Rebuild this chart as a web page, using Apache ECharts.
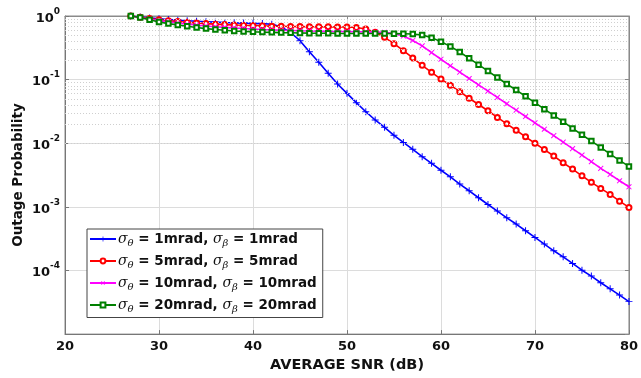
<!DOCTYPE html>
<html>
<head>
<meta charset="utf-8">
<script src="https://cdn.jsdelivr.net/npm/echarts@6/dist/echarts.min.js"></script>
<style>html,body{margin:0;padding:0;background:#fff}#c{width:641px;height:378px}</style>
</head>
<body>
<div id="c"></div>
<script>
const snr = [27,28,29,30,31,32,33,34,35,36,37,38,39,40,41,42,43,44,45,46,47,48,49,50,51,52,53,54,55,56,57,58,59,60,61,62,63,64,65,66,67,68,69,70,71,72,73,74,75,76,77,78,79,80];
const p1mrad = [1.0,0.966,0.933,0.902,0.881,0.861,0.841,0.826,0.813,0.8,0.789,0.78,0.773,0.766,0.759,0.741,0.676,0.55,0.409,0.275,0.187,0.126,0.0853,0.0608,0.0434,0.0313,0.0232,0.0178,0.0133,0.0103,0.00802,0.00614,0.00483,0.00376,0.00297,0.00228,0.00179,0.00139,0.00109,0.000859,0.000673,0.000537,0.000421,0.000331,0.00026,0.000204,0.000164,0.000129,0.000101,0.0000817,0.0000641,0.0000515,0.000041,0.0000324];
const p5mrad = [1.0,0.955,0.912,0.875,0.843,0.817,0.794,0.776,0.759,0.745,0.733,0.723,0.715,0.708,0.7,0.693,0.689,0.684,0.681,0.678,0.676,0.675,0.673,0.67,0.658,0.624,0.556,0.462,0.367,0.285,0.219,0.168,0.13,0.102,0.0817,0.0646,0.051,0.0406,0.0324,0.0255,0.0202,0.016,0.0126,0.01,0.00794,0.0063,0.00493,0.00393,0.00308,0.00243,0.00195,0.00157,0.00123,0.00098];
const p10mrad = [1.0,0.944,0.891,0.847,0.809,0.776,0.746,0.721,0.698,0.679,0.662,0.647,0.635,0.624,0.614,0.605,0.598,0.592,0.586,0.581,0.577,0.573,0.57,0.568,0.565,0.562,0.558,0.552,0.531,0.484,0.412,0.339,0.266,0.209,0.165,0.131,0.104,0.0828,0.0661,0.0525,0.0417,0.0331,0.0263,0.0209,0.0166,0.0132,0.0104,0.00822,0.00652,0.00513,0.00403,0.00324,0.00257,0.00207];
const p20mrad = [1.0,0.95,0.875,0.805,0.759,0.724,0.689,0.661,0.634,0.612,0.596,0.582,0.573,0.565,0.558,0.553,0.548,0.545,0.541,0.538,0.536,0.535,0.533,0.532,0.531,0.531,0.53,0.53,0.528,0.526,0.52,0.501,0.457,0.394,0.333,0.272,0.216,0.172,0.136,0.108,0.0853,0.0685,0.0547,0.0434,0.0343,0.0274,0.0218,0.0171,0.0136,0.0108,0.00861,0.00676,0.00537,0.00432];
const legendLabels = ['1mrad','5mrad','10mrad','20mrad'];
const xTicks = [20,30,40,50,60,70,80];

const FONT = 'DejaVu Sans';
const PLUS = 'path://M4.3,0H5.7V4.3H10V5.7H5.7V10H4.3V5.7H0V4.3H4.3Z';

function pairs(vals){ return snr.map((x,i)=>[x, vals[i]]); }

// minor grid values 2..9 x 10^e
const minorVals = [];
for (let e=-5; e<0; e++) for (let k=2; k<=9; k++) minorVals.push(k*Math.pow(10,e));

const colors = ['#0000ff','#ff0000','#ff00ff','#008000'];
const symbols = [PLUS,'emptyCircle',PLUS,'emptyRect'];
const rots = [0,0,45,0];
const sizes = [7,5,7,4.5];
const allVals = [p1mrad,p5mrad,p10mrad,p20mrad];

const names = legendLabels.map(l => l);
const series = [{
  type:'line', data:[], silent:true, z:1,
  markLine:{silent:true, symbol:'none', label:{show:false}, animation:false,
    lineStyle:{color:'#cfcfcf', type:[1,2], width:1},
    data: minorVals.map(v=>({yAxis:v}))}
}];
allVals.forEach((vals,i)=>{
  const isPlus = symbols[i]===PLUS;
  series.push({
    name: names[i], type:'line', data: pairs(vals),
    symbol: symbols[i], symbolSize: sizes[i], symbolRotate: rots[i],
    showAllSymbol:true, z: 3+i,
    lineStyle:{color:colors[i], width:1.6},
    itemStyle: isPlus ? {color:colors[i], borderWidth:0} : {color:colors[i], borderWidth:0.9}
  });
});

const chart = echarts.init(document.getElementById('c'), null, {renderer:'canvas'});
chart.setOption({
  animation:false,
  backgroundColor:'#fff',
  grid:{left:65, right:9, top:16, bottom:43, show:true, borderColor:'#8a8a8a', borderWidth:1, backgroundColor:'transparent'},
  xAxis:[{
    type:'value', min:20, max:80, interval:10,
    name:'AVERAGE SNR (dB)', nameLocation:'middle', nameGap:21,
    nameTextStyle:{fontFamily:FONT, fontWeight:'bold', fontSize:14.5, color:'#111'},
    axisLine:{show:true, lineStyle:{color:'#777'}},
    axisTick:{show:true, inside:true, length:4, lineStyle:{color:'#777'}},
    axisLabel:{fontFamily:FONT, fontWeight:'bold', fontSize:13, color:'#111', margin:6},
    splitLine:{show:true, lineStyle:{color:'#dcdcdc', width:1}}
  },{
    type:'value', position:'top', min:20, max:80, interval:10,
    axisLine:{show:true, lineStyle:{color:'#8a8a8a'}},
    axisTick:{show:true, inside:true, length:4, lineStyle:{color:'#8a8a8a'}},
    axisLabel:{show:false}, splitLine:{show:false}
  }],
  yAxis:[{
    type:'log', logBase:10, min:1e-5, max:1,
    name:'Outage Probability', nameLocation:'middle', nameGap:40, nameMoveOverlap:false,
    nameTextStyle:{fontFamily:FONT, fontWeight:'bold', fontSize:13.5, color:'#111'},
    axisLine:{show:true, lineStyle:{color:'#777'}},
    axisTick:{show:true, inside:true, length:4, lineStyle:{color:'#777'}},
    axisLabel:{margin:5, color:'#111',
      formatter:function(v){
        const e = Math.round(Math.log10(v));
        if (e === -5) return '';
        return '{b|10}{sup|' + e + '}';
      },
      rich:{
        b:{fontFamily:FONT, fontWeight:'bold', fontSize:13, color:'#111', verticalAlign:'bottom', lineHeight:18},
        sup:{fontFamily:FONT, fontWeight:'bold', fontSize:9, color:'#111', verticalAlign:'top', lineHeight:18}
      }},
    splitLine:{show:true, lineStyle:{color:'#dcdcdc', width:1}}
  },{
    type:'log', logBase:10, min:1e-5, max:1, position:'right',
    axisLine:{show:true, lineStyle:{color:'#8a8a8a'}},
    axisTick:{show:true, inside:true, length:4, lineStyle:{color:'#8a8a8a'}},
    axisLabel:{show:false}, splitLine:{show:false}
  }],
  legend:{
    orient:'vertical', left:87, top:229,
    padding:[3,6,3,2], itemGap:5.5, itemWidth:26, itemHeight:6,
    backgroundColor:'#fff', borderColor:'#444', borderWidth:1,
    data:names,
    formatter:function(n){
      return '{s|σ}{sub|θ}{t| = ' + n + ', }{s|σ}{sub|β}{t| = ' + n + '}';
    },
    textStyle:{
      padding:[0,0,0,-3],
      rich:{
        s:{fontFamily:'DejaVu Serif', fontStyle:'italic', fontSize:14, color:'#111', lineHeight:19, verticalAlign:'middle'},
        sub:{fontFamily:'DejaVu Serif', fontStyle:'italic', fontSize:10, color:'#111', lineHeight:19, verticalAlign:'bottom'},
        t:{fontFamily:FONT, fontWeight:'bold', fontSize:13.5, color:'#111', lineHeight:19, verticalAlign:'middle'}
      }
    }
  },
  series: series
});
</script>
</body>
</html>
